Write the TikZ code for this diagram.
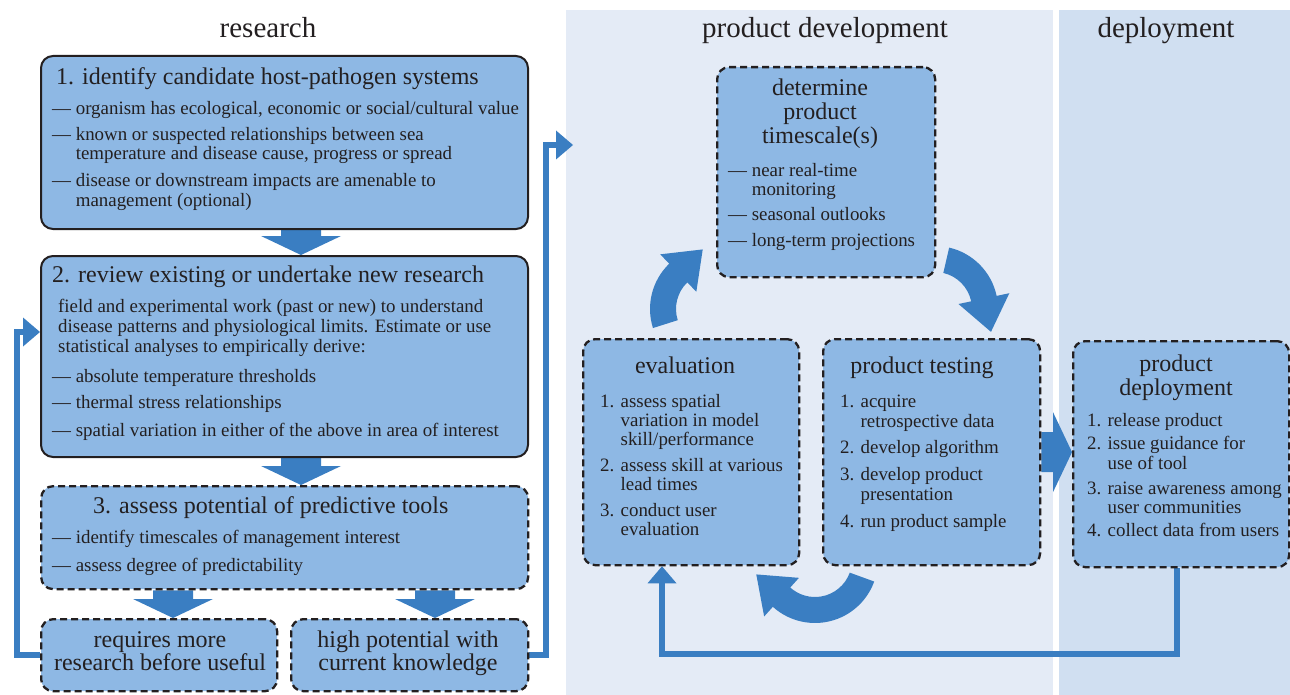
\documentclass[tikz,border=0pt]{standalone}
\usepackage{fontspec}
\setmainfont{Liberation Serif}
\usetikzlibrary{calc,arrows.meta,backgrounds}
\definecolor{boxfill}{RGB}{142,184,228}
\definecolor{ablue}{RGB}{58,126,194}
\definecolor{pdpanel}{RGB}{228,235,246}
\definecolor{dppanel}{RGB}{208,223,241}
\definecolor{tcol}{RGB}{35,31,32}
\newcommand\bdown[2]{\fill[ablue] ($(#1)+(-20,0)$) -- ($(#1)+(20,0)$) -- ($(#2)+(20,19)$) -- ($(#2)+(40,19)$) -- (#2) -- ($(#2)+(-40,19)$) -- ($(#2)+(-20,19)$) -- cycle;}
\newcommand\bright[2]{\fill[ablue] ($(#1)+(0,20)$) -- ($(#1)+(0,-20)$) -- ($(#2)+(-19,-20)$) -- ($(#2)+(-19,-40)$) -- (#2) -- ($(#2)+(-19,40)$) -- ($(#2)+(-19,20)$) -- cycle;}
\newcommand\cyc[3]{\fill[ablue] ($(#1)+(#2:37)$) arc[start angle=#2, end angle=#3, radius=37] -- ($(#1)+(#3:24)$) -- ($(#1)+(#3:50)+(#3-90:34)$) -- ($(#1)+(#3:76)$) -- ($(#1)+(#3:63)$) arc[start angle=#3, end angle=#2, radius=63] -- cycle;}
\begin{document}
\begin{tikzpicture}[x=1pt,y=1pt,
  every node/.style={inner sep=0pt, text=tcol},
  sbox/.style={draw=tcol, line width=2pt, fill=boxfill, rounded corners=12pt, anchor=north west, inner sep=0pt},
  dbox/.style={sbox, line width=2.3pt, dash pattern=on 7pt off 4pt},
  hdr/.style={font=\fontsize{29}{32}\selectfont, anchor=base},
  ttl/.style={font=\fontsize{24}{26}\selectfont, anchor=base},
  ttlw/.style={font=\fontsize{24}{26}\selectfont, anchor=base west},
  bd/.style={font=\fontsize{18.9}{20}\selectfont, anchor=base west},
  conn/.style={draw=ablue, line width=5.5pt, -{Triangle[width=29pt,length=17pt,line width=0pt]}}]
\useasboundingbox (0,0) rectangle (1290,-695);

% boxes
\node[sbox, minimum width=487pt, minimum height=173pt] (b1) at (40,-55) {};
\node[sbox, minimum width=487pt, minimum height=201pt] (b2) at (40,-255) {};
\node[dbox, minimum width=487pt, minimum height=103pt] (b3) at (40,-485) {};
\node[dbox, minimum width=236pt, minimum height=72pt] (b4) at (40,-618) {};
\node[dbox, minimum width=237pt, minimum height=72pt] (b5) at (290,-618) {};
\node[dbox, minimum width=218pt, minimum height=210pt] (dt) at (716,-66) {};
\node[dbox, minimum width=216pt, minimum height=226pt] (ev) at (582,-338) {};
\node[dbox, minimum width=217pt, minimum height=226pt] (ptest) at (822,-338) {};
\node[dbox, minimum width=216pt, minimum height=226pt] (dp) at (1072,-340) {};

% coordinates
\coordinate (X1) at (301,0);
\coordinate (X2) at (173,0);
\coordinate (X3) at (435,0);
\coordinate (a1s) at (b1.south -| X1);
\coordinate (a1e) at (b2.north -| X1);
\coordinate (a2s) at (b2.south -| X1);
\coordinate (a2e) at (b3.north -| X1);
\coordinate (a3s) at (b3.south -| X2);
\coordinate (a3e) at (b4.north -| X2);
\coordinate (a4s) at (b3.south -| X3);
\coordinate (a4e) at (b5.north -| X3);
\coordinate (a5s) at (ptest.east);
\coordinate (a5e) at (ptest.east -| dp.west);
\coordinate (c1) at (713,-309);
\coordinate (c2) at (935,-309);
\coordinate (c3) at (815,-560);
\coordinate (L2) at (17,-332);
\coordinate (R2) at (546,-145);
\coordinate (R3) at (573,-145);
\coordinate (B1) at (662,-654);

\begin{pgfonlayer}{background}
\fill[pdpanel] (566,-10) rectangle (1053,-695);
\fill[dppanel] (1059,-10) rectangle (1290,-695);
\bdown{a1s}{a1e}
\bdown{a2s}{a2e}
\bdown{a3s}{a3e}
\bdown{a4s}{a4e}
\bright{a5s}{a5e}
\cyc{c1}{197.6}{134}
\cyc{c2}{77}{12}
\cyc{c3}{340}{228}
\draw[conn] (b4.west) -| (L2) -- (L2 -| b2.west);
\draw[conn] (b5.east) -| (R2) -- (R3);
\draw[conn] ($(dp.south)+(-4,0)$) |- (B1) -- (B1 |- ev.south);
\end{pgfonlayer}

% headers
\node[hdr] (h1) at (268,-38) {research};
\node[hdr] (h2) at (825,-38) {product development};
\node[hdr] (h3) at (1166,-38) {deployment};

% box 1
\node[ttlw] (t1) at (56,-85) {1. identify candidate host-pathogen systems};
\node[bd] (t1a) at (52,-115) {— organism has ecological, economic or social/cultural value};
\node[bd] (t1b) at (52,-141) {— known or suspected relationships between sea};
\node[bd] (t1c) at (52,-160) {\phantom{— }temperature and disease cause, progress or spread};
\node[bd] (t1d) at (52,-187) {— disease or downstream impacts are amenable to};
\node[bd] (t1e) at (52,-207) {\phantom{— }management (optional)};

% box 2
\node[ttlw] (t2) at (52,-282) {2. review existing or undertake new research};
\node[bd] (t2a) at (58,-312) {field and experimental work (past or new) to understand};
\node[bd] (t2b) at (58,-332) {disease patterns and physiological limits. Estimate or use};
\node[bd] (t2c) at (58,-352) {statistical analyses to empirically derive:};
\node[bd] (t2d) at (52,-382) {— absolute temperature thresholds};
\node[bd] (t2e) at (52,-408) {— thermal stress relationships};
\node[bd] (t2f) at (52,-436) {— spatial variation in either of the above in area of interest};

% box 3
\node[ttlw] (t3) at (93,-513) {3. assess potential of predictive tools};
\node[bd] (t3a) at (52,-543) {— identify timescales of management interest};
\node[bd] (t3b) at (52,-571) {— assess degree of predictability};

% box 4, 5
\node[ttl] (t4a) at (160,-647) {requires more};
\node[ttl] (t4b) at (160,-670) {research before useful};
\node[ttl] (t5a) at (408,-647) {high potential with};
\node[ttl] (t5b) at (408,-670) {current knowledge};

% determine
\node[ttl] (td1) at (820,-96) {determine};
\node[ttl] (td2) at (820,-120) {product};
\node[ttl] (td3) at (820,-144) {timescale(s)};
\node[bd] (tda) at (728,-177) {— near real-time};
\node[bd] (tdb) at (728,-196) {\phantom{— }monitoring};
\node[bd] (tdc) at (728,-221) {— seasonal outlooks};
\node[bd] (tdd) at (728,-246) {— long-term projections};

% evaluation
\node[ttl] (te) at (685,-373) {evaluation};
\node[bd] (tea) at (600,-407) {1. assess spatial};
\node[bd] (teb) at (600,-426) {\phantom{1. }variation in model};
\node[bd] (tec) at (600,-445) {\phantom{1. }skill/performance};
\node[bd] (ted) at (600,-471) {2. assess skill at various};
\node[bd] (tee) at (600,-490) {\phantom{1. }lead times};
\node[bd] (tef) at (600,-516) {3. conduct user};
\node[bd] (teg) at (600,-535) {\phantom{1. }evaluation};

% product testing
\node[ttl] (tp) at (922,-373) {product testing};
\node[bd] (tpa) at (840,-407) {1. acquire};
\node[bd] (tpb) at (840,-427) {\phantom{1. }retrospective data};
\node[bd] (tpc) at (840,-453) {2. develop algorithm};
\node[bd] (tpd) at (840,-480) {3. develop product};
\node[bd] (tpe) at (840,-500) {\phantom{1. }presentation};
\node[bd] (tpf) at (840,-527) {4. run product sample};

% deployment
\node[ttl] (tq1) at (1176,-371) {product};
\node[ttl] (tq2) at (1176,-395) {deployment};
\node[bd] (tqa) at (1087,-426) {1. release product};
\node[bd] (tqb) at (1087,-449) {2. issue guidance for};
\node[bd] (tqc) at (1087,-469) {\phantom{1. }use of tool};
\node[bd] (tqd) at (1087,-494) {3. raise awareness among};
\node[bd] (tqe) at (1087,-513) {\phantom{1. }user communities};
\node[bd] (tqf) at (1087,-536) {4. collect data from users};
\end{tikzpicture}
\end{document}
